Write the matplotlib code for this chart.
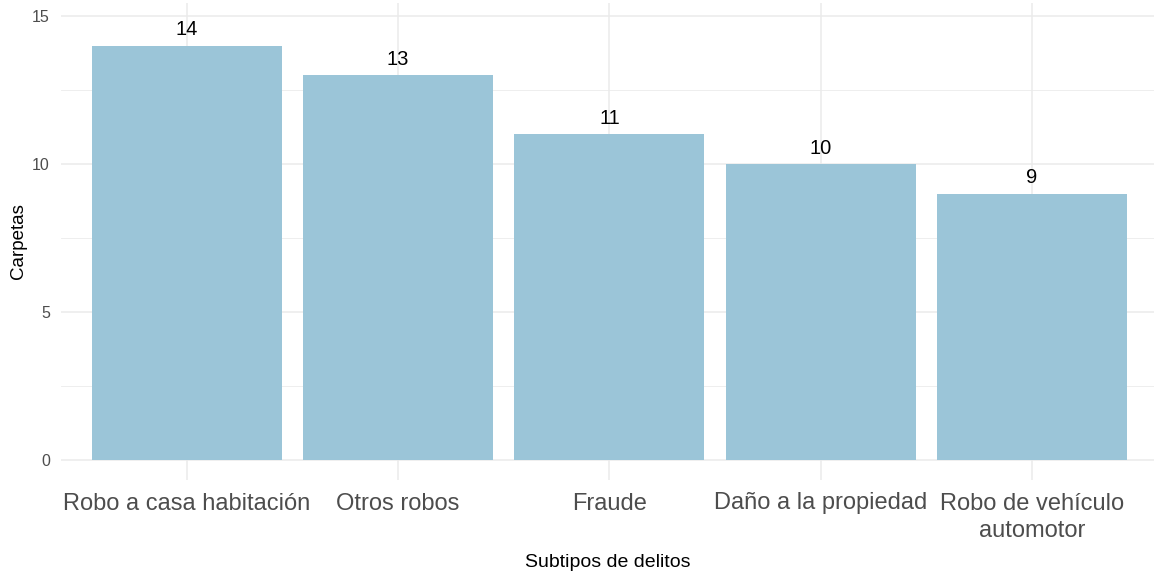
import matplotlib
matplotlib.use("Agg")
import matplotlib.pyplot as plt
from matplotlib.ticker import MultipleLocator

# data
categorias = ["Robo a casa habitación", "Otros robos", "Fraude",
              "Daño a la propiedad", "Robo de vehículo\nautomotor"]
carpetas = [14, 13, 11, 10, 9]
y_ticks = [0, 5, 10, 15]

plt.rcParams['font.family'] = ['Liberation Sans', 'DejaVu Sans']

fig = plt.figure(figsize=(11.54, 5.71), dpi=100)
ax = fig.add_axes([61/1154, 91/571, 1 - 61/1154, 477/571])

x = range(len(categorias))
ax.bar(x, carpetas, width=0.9, color="#9BC5D8", zorder=2)

# value labels above bars
for xi, v in zip(x, carpetas):
    ax.annotate(str(v), (xi, v), xytext=(0, 4.5), textcoords="offset points",
                ha="center", va="bottom", fontsize=14.5, color="black", zorder=3)

ax.set_xlim(-0.596, 4.578)
ax.set_ylim(-0.68, 15.44)
ax.set_yticks(y_ticks)
ax.yaxis.set_minor_locator(MultipleLocator(2.5))
ax.set_xticks(list(x))
ax.set_xticklabels(categorias, fontsize=17, color="#4D4D4D", linespacing=1.3)

# minimal theme
for s in ax.spines.values():
    s.set_visible(False)
ax.grid(True, which="major", color="#EBEBEB", linewidth=1.1, zorder=0)
ax.grid(True, which="minor", axis="y", color="#EBEBEB", linewidth=0.6, zorder=0)
ax.tick_params(which="both", length=0)
ax.tick_params(axis="y", labelsize=11.5, labelcolor="#4D4D4D", pad=8)
ax.tick_params(axis="x", pad=9)

ax.set_ylabel("Carpetas", fontsize=13.5, va="center")
ax.yaxis.set_label_coords(-43/1093, 0.5)
ax.set_xlabel("Subtipos de delitos", fontsize=14, labelpad=9)

fig.savefig("out.png", dpi=100)
